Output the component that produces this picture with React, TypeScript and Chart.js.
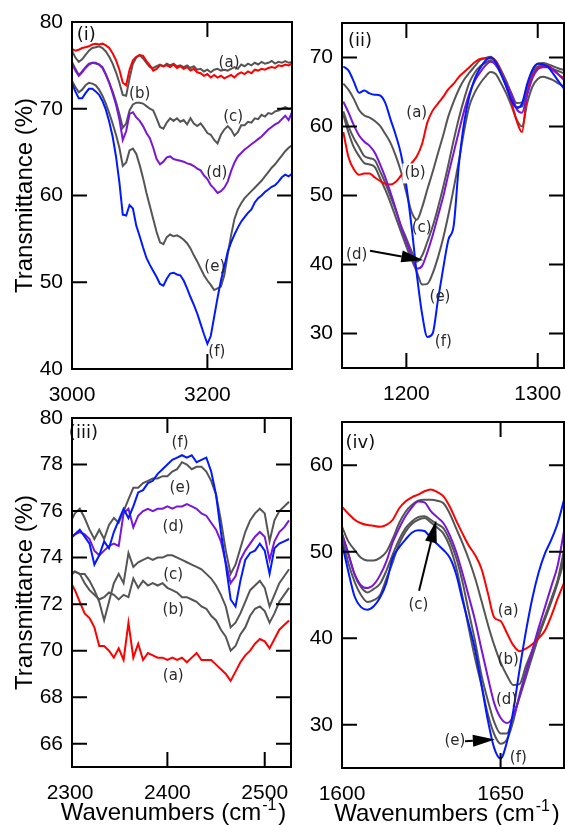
import React, { useEffect, useRef } from 'react';
import { Chart, registerables } from 'chart.js';

Chart.register(...registerables);

// ---------- shared series styling ----------
const SERIES_COLORS = ['#ff0000', '#555555', '#555555', '#7a16d8', '#555555', '#0019ff'];
const SERIES_NAMES = ['a', 'b', 'c', 'd', 'e', 'f'];
const DRAW_ORDER = [2, 5, 4, 1, 3, 0];

const TICK_FONT = '"Liberation Sans", Arial, sans-serif';
const LABEL_FONT = '"DejaVu Sans", sans-serif';

// ---------- Panel (i) : 3000-3325 cm-1 ----------
const p1Wavenumbers = [
  3000, 3005, 3010, 3015, 3020, 3025, 3030, 3035, 3040, 3045,
  3050, 3055, 3060, 3065, 3070, 3075, 3080, 3085, 3090, 3095,
  3100, 3105, 3110, 3115, 3120, 3125, 3130, 3135, 3140, 3145,
  3150, 3155, 3160, 3165, 3170, 3175, 3180, 3185, 3190, 3195,
  3200, 3205, 3210, 3215, 3220, 3225, 3230, 3235, 3240, 3245,
  3250, 3255, 3260, 3265, 3270, 3275, 3280, 3285, 3290, 3295,
  3300, 3305, 3310, 3315, 3320, 3325,
];
const p1A = [
  76.9, 76.7, 76.8, 77.0, 77.1, 77.2, 77.4, 77.5, 77.4, 77.5,
  77.3, 77.0, 76.4, 75.6, 74.5, 73.0, 72.7, 74.5, 75.6, 76.0,
  76.2, 76.1, 75.5, 75.0, 74.4, 74.6, 75.0, 74.9, 75.0, 74.8,
  75.1, 74.7, 74.9, 74.6, 74.8, 74.4, 74.6, 74.2, 74.1, 73.8,
  74.0, 73.6, 73.9, 73.6, 73.8, 73.5, 73.7, 73.9, 73.6, 74.0,
  74.2, 74.0, 74.3, 74.1, 74.5, 74.4, 74.6, 74.5, 74.7, 74.8,
  74.7, 75.0, 74.9, 75.1, 75.0, 75.2,
];
const p1B = [
  76.7, 75.9, 75.4, 75.7, 76.2, 76.7, 77.0, 77.1, 77.2, 77.0,
  76.6, 76.0, 75.2, 74.2, 73.0, 71.6, 71.5, 73.5, 75.2, 75.9,
  76.2, 75.8, 75.3, 74.8, 74.7, 74.9, 75.1, 74.9, 75.2, 75.0,
  75.2, 74.9, 75.0, 74.8, 75.0, 74.7, 74.9, 74.5, 74.6, 74.3,
  74.5, 74.2, 74.5, 74.6, 74.4, 74.5, 74.4, 74.6, 74.8, 74.6,
  75.1, 74.9, 75.2, 75.0, 75.3, 75.1, 75.4, 75.2, 75.3, 75.5,
  75.2, 75.4, 75.3, 75.5, 75.3, 75.4,
];
const p1C = [
  75.4, 74.6, 73.9, 74.3, 74.8, 75.2, 75.3, 75.2, 75.1, 74.7,
  73.9, 73.0, 72.0, 70.8, 69.4, 67.8, 68.3, 69.8, 70.5, 70.7,
  70.7, 70.6, 70.3, 70.0, 69.8, 68.9, 67.9, 67.7, 68.4, 68.9,
  68.6, 68.9, 68.5, 68.7, 68.2, 68.9, 68.3, 68.0, 68.3, 67.8,
  67.2, 67.0, 66.4, 66.0, 67.0, 67.6, 68.0, 67.6, 66.9, 67.3,
  68.1, 68.1, 68.5, 68.4, 68.9, 68.8, 69.3, 69.1, 69.5, 69.4,
  69.7, 69.8, 70.0, 70.2, 70.0, 70.1,
];
const p1D = [
  75.2, 74.4, 73.8, 74.2, 74.7, 75.1, 75.3, 75.3, 75.1, 74.8,
  74.0, 73.0, 71.8, 70.5, 68.8, 66.4, 67.4, 69.4, 69.6, 69.0,
  68.6, 68.0, 67.2, 66.6, 65.5, 64.2, 63.6, 63.9, 64.4, 64.5,
  64.2, 64.1, 64.0, 63.9, 63.7, 63.6, 63.4, 63.1, 62.9, 62.3,
  61.9, 61.2, 60.8, 60.3, 60.5, 60.9, 61.6, 62.8, 63.8, 64.5,
  64.9, 65.3, 65.6, 65.9, 66.2, 66.5, 66.8, 67.2, 67.6, 67.9,
  68.2, 68.4, 68.8, 69.2, 68.7, 69.6,
];
const p1E = [
  73.2, 72.5, 71.9, 72.2, 72.7, 73.0, 72.9, 72.7, 72.2, 71.5,
  70.6, 69.5, 68.3, 67.0, 65.5, 63.4, 63.8, 65.2, 65.4, 64.8,
  63.5, 62.0, 60.3, 58.8, 57.3, 55.8, 54.6, 54.4, 55.2, 55.5,
  55.3, 55.4, 55.2, 54.9, 54.5, 53.9, 53.1, 52.4, 51.6, 50.8,
  50.2, 49.7, 49.1, 49.3, 49.5, 50.8, 53.2, 55.4, 57.3, 58.4,
  59.1, 59.7, 60.1, 60.5, 60.9, 61.3, 61.7, 62.2, 62.7, 63.2,
  63.6, 64.1, 64.6, 65.1, 65.5, 65.8,
];
const p1F = [
  72.9, 72.0, 71.2, 71.2, 71.8, 72.3, 72.3, 72.0, 71.6, 70.9,
  69.9, 68.5, 66.8, 64.5, 61.5, 57.8, 57.7, 58.9, 58.5, 56.5,
  55.3, 54.0, 52.8, 52.0, 51.3, 50.6, 49.8, 49.6, 50.4, 51.0,
  51.1, 50.9, 50.8, 50.2, 49.3, 48.3, 47.4, 46.4, 45.2, 44.0,
  42.9, 43.8, 46.0, 48.2, 50.2, 51.8, 53.5, 54.6, 55.5, 56.3,
  57.0, 57.5, 58.0, 58.4, 59.2, 59.7, 60.0, 60.4, 60.7, 61.0,
  61.2, 61.6, 62.1, 62.4, 62.2, 62.5,
];
const p1XTicks = [3000, 3200];
const p1YTicks = [40, 50, 60, 70, 80];

// ---------- Panel (ii) : 1150-1320 cm-1 ----------
const p2Wavenumbers = [
  1152, 1156, 1160, 1164, 1168, 1172, 1176, 1180, 1184, 1188,
  1192, 1196, 1200, 1204, 1208, 1212, 1216, 1220, 1224, 1228,
  1232, 1236, 1240, 1244, 1248, 1252, 1256, 1260, 1264, 1268,
  1272, 1276, 1280, 1284, 1288, 1292, 1296, 1300, 1304, 1308,
  1312, 1316, 1320,
];
const p2A = [
  59.2, 55.5, 53.8, 53.0, 53.2, 53.2, 52.6, 52.1, 51.7, 51.6,
  52.0, 52.9, 53.7, 54.7, 55.7, 57.5, 60.6, 62.3, 63.3, 64.3,
  65.4, 66.2, 67.2, 67.9, 68.6, 69.3, 69.8, 69.9, 69.9, 69.5,
  67.9, 65.8, 63.5, 60.8, 59.2, 64.8, 67.3, 68.4, 68.8, 68.8,
  68.1, 67.5, 67.0,
];
const p2B = [
  66.2, 65.3, 64.0, 62.4, 61.6, 61.3, 60.8, 60.1, 58.9, 57.6,
  55.7, 53.4, 50.4, 47.6, 46.5, 48.3, 50.9, 53.4, 56.1, 58.7,
  61.5, 63.6, 65.4, 66.8, 67.8, 68.7, 69.6, 69.9, 70.1, 69.5,
  68.2, 66.6, 64.8, 63.4, 63.5, 65.8, 68.2, 69.1, 69.2, 69.0,
  68.7, 68.4, 68.2,
];
const p2C = [
  62.2, 60.0, 58.3, 57.0, 55.7, 55.4, 55.1, 53.5, 51.8, 49.8,
  47.8, 45.6, 43.8, 41.9, 40.4, 41.3, 43.3, 45.5, 48.2, 51.2,
  54.5, 58.0, 61.2, 64.0, 66.4, 67.8, 68.7, 69.2, 69.6, 68.9,
  67.7, 66.2, 64.3, 62.8, 62.9, 65.3, 67.6, 68.7, 68.8, 68.6,
  68.3, 68.0, 67.7,
];
const p2D = [
  63.6, 62.0, 60.2, 58.7, 57.8, 57.2, 56.2, 54.5, 52.6, 50.4,
  48.0, 45.4, 43.3, 41.3, 39.4, 39.8, 41.8, 44.2, 47.0, 49.8,
  53.1, 56.2, 59.3, 62.3, 64.8, 66.6, 67.8, 68.8, 69.4, 69.0,
  67.7, 66.2, 64.7, 62.5, 62.0, 64.6, 67.0, 68.3, 68.6, 68.6,
  68.2, 67.5, 66.7,
];
const p2E = [
  61.7, 59.1, 57.0, 55.7, 54.7, 54.5, 54.1, 52.5, 50.8, 48.9,
  46.8, 44.7, 42.6, 40.7, 38.9, 37.1, 37.2, 38.7, 41.0, 43.8,
  47.2, 51.0, 55.0, 59.4, 63.0, 64.9, 66.2, 67.2, 67.9, 67.6,
  66.3, 64.8, 63.0, 61.0, 60.0, 63.4, 65.8, 66.9, 67.2, 67.0,
  66.7, 66.2, 65.8,
];
const p2F = [
  68.7, 68.1, 66.5, 64.9, 65.2, 64.8, 64.6, 64.5, 63.4, 61.0,
  58.7, 55.9, 51.4, 45.4, 38.5, 32.8, 29.5, 30.0, 34.8, 39.4,
  43.6, 45.6, 54.5, 60.6, 64.4, 66.9, 68.4, 69.5, 70.0, 69.3,
  67.6, 65.8, 63.8, 62.7, 63.3, 66.2, 68.2, 69.1, 69.0, 68.6,
  67.6, 66.5, 65.5,
];
const p2XTicks = [1200, 1300];
const p2YTicks = [30, 40, 50, 60, 70];

// ---------- Panel (iii) : 2300-2525 cm-1 ----------
const p3Wavenumbers = [
  2300, 2305, 2310, 2315, 2320, 2325, 2330, 2335, 2340, 2345,
  2350, 2355, 2360, 2365, 2370, 2375, 2380, 2385, 2390, 2395,
  2400, 2405, 2410, 2415, 2420, 2425, 2430, 2435, 2440, 2445,
  2450, 2455, 2460, 2465, 2470, 2475, 2480, 2485, 2490, 2495,
  2500, 2505, 2510, 2515, 2520, 2525,
];
const p3A = [
  73.0, 72.6, 72.1, 71.6, 71.4, 71.0, 70.2, 70.2, 70.0, 69.7,
  70.1, 69.6, 71.2, 69.7, 70.3, 69.6, 69.9, 69.8, 69.7, 69.7,
  69.6, 69.7, 69.6, 69.7, 69.5, 69.7, 69.9, 69.6, 69.6, 69.6,
  69.4, 69.2, 69.0, 68.7, 69.1, 69.5, 69.8, 70.0, 70.3, 70.5,
  70.4, 70.1, 70.5, 70.9, 71.1, 71.3,
];
const p3B = [
  73.3, 73.4, 73.3, 72.9, 72.6, 72.4, 72.2, 72.3, 72.5, 72.4,
  72.2, 72.4, 72.3, 73.1, 72.7, 73.0, 72.8, 72.9, 72.8, 72.9,
  72.7, 72.6, 72.5, 72.3, 72.3, 72.2, 72.1, 71.9, 71.8, 71.5,
  71.3, 70.9, 70.6, 70.0, 70.2, 70.7, 71.0, 71.5, 71.8, 71.9,
  71.7, 71.2, 71.6, 72.1, 72.4, 72.7,
];
const p3C = [
  73.2, 73.4, 73.3, 73.3, 73.0, 72.6, 72.1, 71.3, 72.1, 72.9,
  73.3, 72.9, 74.2, 73.6, 73.8, 73.9, 74.0, 73.9, 74.0, 74.0,
  74.1, 74.1, 74.0, 73.9, 73.8, 73.7, 73.6, 73.5, 73.3, 73.1,
  72.8, 72.4, 71.9, 71.0, 71.2, 71.6, 72.1, 72.6, 72.8, 73.0,
  72.7, 71.9, 72.4, 72.9, 73.2, 73.5,
];
const p3D = [
  74.8, 75.0, 75.1, 75.0, 74.8, 74.3, 74.1, 74.3, 74.5, 74.6,
  74.5, 75.9, 76.1, 75.3, 75.8, 76.0, 76.1, 76.0, 76.1, 76.1,
  76.2, 76.1, 76.2, 76.2, 76.3, 76.2, 76.1, 75.9, 75.8, 75.5,
  75.2, 74.7, 73.8, 72.9, 73.2, 73.9, 74.3, 74.6, 74.9, 75.1,
  74.9, 73.9, 74.7, 75.1, 75.3, 75.6,
];
const p3E = [
  75.5, 75.9, 76.1, 75.7, 75.2, 74.8, 75.2, 74.8, 75.4, 75.7,
  75.5, 76.0, 76.5, 77.0, 77.0, 77.2, 77.3, 77.4, 77.4, 77.5,
  77.5, 77.7, 77.8, 78.1, 78.0, 77.8, 77.9, 77.9, 77.7, 77.3,
  76.7, 75.6, 74.3, 73.3, 73.7, 74.4, 75.1, 75.6, 75.9, 76.1,
  75.9, 74.7, 75.6, 76.0, 76.2, 76.4,
];
const p3F = [
  74.8, 75.0, 75.2, 74.9, 74.6, 73.7, 74.1, 74.7, 74.4, 75.1,
  75.6, 76.1, 75.7, 76.2, 76.8, 76.9, 77.2, 77.3, 77.6, 77.8,
  78.0, 78.2, 78.3, 78.4, 78.3, 78.4, 78.1, 78.2, 78.3, 77.7,
  76.7, 75.1, 73.7, 72.2, 71.9, 73.0, 73.9, 74.2, 74.3, 74.6,
  74.3, 73.3, 74.4, 74.6, 74.7, 74.8,
];
const p3XTicks = [2300, 2400, 2500];
const p3YTicks = [66, 68, 70, 72, 74, 76, 78, 80];

// ---------- Panel (iv) : 1600-1670 cm-1 ----------
const p4Wavenumbers = [
  1600, 1602, 1604, 1606, 1608, 1610, 1612, 1614, 1616, 1618,
  1620, 1622, 1624, 1626, 1628, 1630, 1632, 1634, 1636, 1638,
  1640, 1642, 1644, 1646, 1648, 1650, 1652, 1654, 1656, 1658,
  1660, 1662, 1664, 1666, 1668, 1670,
];
const p4A = [
  55.2, 54.4, 53.7, 53.3, 53.1, 53.0, 52.9, 53.1, 53.7, 55.0,
  55.8, 56.3, 56.6, 57.0, 57.2, 56.9, 56.4, 55.2, 53.6, 52.1,
  50.7, 49.6, 48.0, 45.2, 42.4, 42.0, 40.6, 39.2, 38.5, 38.8,
  39.3, 40.0, 40.9, 42.6, 44.6, 46.4,
];
const p4B = [
  52.9, 51.2, 50.2, 49.3, 49.0, 49.0, 49.3, 50.0, 51.5, 53.3,
  54.6, 55.4, 55.9, 56.0, 56.0, 55.9, 55.6, 54.4, 52.7, 51.0,
  49.1, 46.9, 44.3, 41.6, 39.2, 37.2, 35.7, 34.6, 34.7, 36.8,
  38.6, 40.3, 42.2, 44.2, 46.4, 48.9,
];
const p4C = [
  52.1, 49.8, 47.3, 45.9, 45.3, 45.7, 46.3, 47.8, 49.7, 51.4,
  52.7, 53.5, 54.0, 54.1, 53.7, 53.2, 52.7, 51.3, 49.3, 46.5,
  43.0, 39.6, 35.7, 32.8, 30.3, 29.0, 29.0, 31.0, 33.2, 35.5,
  37.9, 40.2, 42.4, 44.5, 46.7, 50.2,
];
const p4D = [
  52.1, 49.7, 47.4, 46.1, 45.8, 46.2, 47.3, 48.9, 51.1, 52.7,
  54.1, 55.1, 55.8, 55.7, 54.7, 54.0, 53.3, 51.9, 50.0, 47.5,
  44.8, 42.0, 38.7, 35.5, 32.5, 30.8, 30.2, 31.0, 33.3, 36.0,
  38.6, 41.2, 43.6, 46.0, 48.4, 52.4,
];
const p4E = [
  51.7, 48.7, 46.5, 45.0, 44.2, 44.4, 45.0, 46.9, 48.8, 50.9,
  52.3, 53.2, 53.7, 53.9, 53.4, 52.8, 52.1, 50.6, 48.2, 44.8,
  41.1, 37.6, 34.5, 31.2, 28.9, 27.8, 28.3, 30.4, 33.5, 36.1,
  38.5, 40.6, 42.5, 44.5, 46.6, 49.2,
];
const p4F = [
  51.0, 47.7, 44.8, 43.6, 43.3, 43.7, 44.7, 46.4, 49.3, 50.5,
  51.4, 52.2, 52.5, 52.4, 51.6, 50.9, 50.2, 49.3, 47.4, 44.4,
  41.6, 38.6, 34.6, 30.5, 27.3, 26.1, 28.0, 31.6, 36.4, 40.8,
  44.6, 47.6, 49.8, 51.4, 53.3, 56.0,
];
const p4XTicks = [1600, 1650];
const p4YTicks = [30, 40, 50, 60];

// ---------- annotations (data coordinates) ----------
type Ann = { text: string; x: number; y: number; big?: boolean; mask?: boolean };
type Arrow = { x1: number; y1: number; x2: number; y2: number };

const p1Labels: Ann[] = [
  { text: '(i)', x: 3021, y: 78.5, big: true },
  { text: '(a)', x: 3232, y: 75.3 },
  { text: '(b)', x: 3100, y: 71.7 },
  { text: '(c)', x: 3238, y: 69.0 },
  { text: '(d)', x: 3214, y: 62.6 },
  { text: '(e)', x: 3211, y: 51.8 },
  { text: '(f)', x: 3214, y: 42.0 },
];
const p2Labels: Ann[] = [
  { text: '(ii)', x: 1164.7, y: 72.3, big: true },
  { text: '(a)', x: 1207.9, y: 61.9 },
  { text: '(b)', x: 1206.6, y: 53.2, mask: true },
  { text: '(c)', x: 1211.7, y: 45.3 },
  { text: '(d)', x: 1162.2, y: 41.4 },
  { text: '(e)', x: 1225.6, y: 35.3 },
  { text: '(f)', x: 1228.1, y: 28.8 },
];
const p2Arrows: Arrow[] = [{ x1: 1172.3, y1: 42.0, x2: 1212.9, y2: 40.6 }];
const p3Labels: Ann[] = [
  { text: '(iii)', x: 2313.7, y: 79.35, big: true },
  { text: '(f)', x: 2413, y: 78.9 },
  { text: '(e)', x: 2413, y: 77.0 },
  { text: '(d)', x: 2406, y: 75.3 },
  { text: '(c)', x: 2406, y: 73.25 },
  { text: '(b)', x: 2406, y: 71.75 },
  { text: '(a)', x: 2406, y: 68.9 },
];
const p4Labels: Ann[] = [
  { text: '(iv)', x: 1605.8, y: 62.5, big: true },
  { text: '(c)', x: 1624.1, y: 43.8 },
  { text: '(a)', x: 1652.4, y: 43.1 },
  { text: '(b)', x: 1652.4, y: 37.5 },
  { text: '(d)', x: 1651.9, y: 32.9 },
  { text: '(e)', x: 1635.6, y: 28.1 },
  { text: '(f)', x: 1655.6, y: 26.2 },
];
const p4Arrows: Arrow[] = [
  { x1: 1624.3, y1: 45.5, x2: 1629.7, y2: 53.6 },
  { x1: 1638.8, y1: 28.1, x2: 1648.2, y2: 28.3 },
];

// ---------- panel layout ----------
type PanelDef = {
  key: string;
  box: { left: number; top: number; width: number; height: number };
  padTop: number; padRight: number; yWidth: number; xHeight: number;
  xMin: number; xMax: number; yMin: number; yMax: number;
  xs: number[]; series: number[][];
  xTicks: number[]; yTicks: number[];
  yTitle: boolean; xTitle: boolean; xTitleShift: number;
  smooth: boolean;
  labels: Ann[]; arrows: Arrow[];
};

const PANELS: PanelDef[] = [
  {
    key: 'i', box: { left: 0, top: 0, width: 296, height: 404 },
    padTop: 22, padRight: 4, yWidth: 72, xHeight: 35,
    xMin: 3000, xMax: 3325, yMin: 40, yMax: 80,
    xs: p1Wavenumbers, series: [p1A, p1B, p1C, p1D, p1E, p1F],
    xTicks: p1XTicks, yTicks: p1YTicks, yTitle: true, xTitle: false, xTitleShift: 0,
    smooth: false, labels: p1Labels, arrows: [],
  },
  {
    key: 'ii', box: { left: 296, top: 0, width: 269, height: 404 },
    padTop: 23, padRight: 1, yWidth: 46, xHeight: 36,
    xMin: 1151, xMax: 1320, yMin: 25, yMax: 75,
    xs: p2Wavenumbers, series: [p2A, p2B, p2C, p2D, p2E, p2F],
    xTicks: p2XTicks, yTicks: p2YTicks, yTitle: false, xTitle: false, xTitleShift: 0,
    smooth: true, labels: p2Labels, arrows: p2Arrows,
  },
  {
    key: 'iii', box: { left: 0, top: 404, width: 296, height: 421 },
    padTop: 14, padRight: 5, yWidth: 72, xHeight: 58,
    xMin: 2302, xMax: 2527, yMin: 65, yMax: 80,
    xs: p3Wavenumbers, series: [p3A, p3B, p3C, p3D, p3E, p3F],
    xTicks: p3XTicks, yTicks: p3YTicks, yTitle: true, xTitle: true, xTitleShift: -8,
    smooth: false, labels: p3Labels, arrows: [],
  },
  {
    key: 'iv', box: { left: 296, top: 404, width: 269, height: 421 },
    padTop: 18, padRight: 1, yWidth: 46, xHeight: 57,
    xMin: 1600, xMax: 1670, yMin: 25, yMax: 65,
    xs: p4Wavenumbers, series: [p4A, p4B, p4C, p4D, p4E, p4F],
    xTicks: p4XTicks, yTicks: p4YTicks, yTitle: false, xTitle: true, xTitleShift: -6,
    smooth: true, labels: p4Labels, arrows: p4Arrows,
  },
];

function makeDecorPlugin(p: PanelDef) {
  return {
    id: 'decor_' + p.key,
    afterDatasetsDraw(chart: any) {
      const ctx: CanvasRenderingContext2D = chart.ctx;
      const xs = chart.scales.x;
      const ys = chart.scales.y;
      const { left, right, top, bottom } = chart.chartArea;
      ctx.save();
      // annotation labels
      ctx.textAlign = 'center';
      ctx.textBaseline = 'middle';
      for (const l of p.labels) {
        const px = xs.getPixelForValue(l.x);
        const py = ys.getPixelForValue(l.y);
        ctx.font = (l.big ? '18px ' : '15px ') + LABEL_FONT;
        if (l.mask) {
          const w = ctx.measureText(l.text).width;
          ctx.fillStyle = '#ffffff';
          ctx.fillRect(px - w / 2 - 2, py - 10, w + 4, 20);
        }
        ctx.fillStyle = l.big ? '#111111' : '#2a2a2a';
        ctx.fillText(l.text, px, py);
      }
      // arrows
      ctx.strokeStyle = '#000';
      ctx.fillStyle = '#000';
      ctx.lineWidth = 2;
      for (const a of p.arrows) {
        const x1 = xs.getPixelForValue(a.x1), y1 = ys.getPixelForValue(a.y1);
        const x2 = xs.getPixelForValue(a.x2), y2 = ys.getPixelForValue(a.y2);
        const ang = Math.atan2(y2 - y1, x2 - x1);
        const hl = 22, hw = 6;
        const c = Math.cos(ang), s = Math.sin(ang);
        const bx = x2 - hl * c, by = y2 - hl * s;
        ctx.beginPath();
        ctx.moveTo(x1, y1);
        ctx.lineTo(bx, by);
        ctx.stroke();
        ctx.beginPath();
        ctx.moveTo(x2, y2);
        ctx.lineTo(bx - hw * s, by + hw * c);
        ctx.lineTo(bx + hw * s, by - hw * c);
        ctx.closePath();
        ctx.fill();
      }
      // frame + inward ticks
      ctx.lineWidth = 2;
      ctx.strokeStyle = '#000';
      ctx.strokeRect(left, top, right - left, bottom - top);
      const tl = 15;
      ctx.beginPath();
      for (const v of p.yTicks) {
        if (v <= p.yMin || v >= p.yMax) continue;
        const py = ys.getPixelForValue(v);
        ctx.moveTo(left, py); ctx.lineTo(left + tl, py);
        ctx.moveTo(right, py); ctx.lineTo(right - tl, py);
      }
      for (const v of p.xTicks) {
        if (v <= p.xMin || v >= p.xMax) continue;
        const px = xs.getPixelForValue(v);
        ctx.moveTo(px, bottom); ctx.lineTo(px, bottom - tl);
        ctx.moveTo(px, top); ctx.lineTo(px, top + tl);
      }
      ctx.stroke();
      // x-axis title with superscript
      if (p.xTitle) {
        const mainFont = '24px ' + TICK_FONT;
        const supFont = '16px ' + TICK_FONT;
        const main = 'Wavenumbers (cm';
        const sup = '-1';
        const close = ')';
        ctx.textAlign = 'left';
        ctx.textBaseline = 'alphabetic';
        ctx.font = mainFont;
        const wMain = ctx.measureText(main).width;
        const wClose = ctx.measureText(close).width;
        ctx.font = supFont;
        const wSup = ctx.measureText(sup).width;
        const total = wMain + wSup + wClose + 3;
        const x0 = (left + right) / 2 + p.xTitleShift - total / 2;
        const yb = bottom + 53;
        ctx.fillStyle = '#000';
        ctx.font = mainFont;
        ctx.fillText(main, x0, yb);
        ctx.font = supFont;
        ctx.fillText(sup, x0 + wMain + 1, yb - 10);
        ctx.font = mainFont;
        ctx.fillText(close, x0 + wMain + wSup + 3, yb);
      }
      ctx.restore();
    },
  };
}

function buildConfig(p: PanelDef): any {
  const datasets = p.series.map((ys, i) => ({
    label: SERIES_NAMES[i],
    data: p.xs.map((x, j) => ({ x, y: ys[j] })),
    borderColor: SERIES_COLORS[i],
    backgroundColor: SERIES_COLORS[i],
    borderWidth: 2,
    pointRadius: 0,
    fill: false,
    order: DRAW_ORDER[i],
    tension: 0,
    cubicInterpolationMode: p.smooth ? 'monotone' : 'default',
  }));
  return {
    type: 'line',
    data: { datasets },
    options: {
      responsive: false,
      animation: false,
      events: [],
      layout: { padding: { left: 0, top: p.padTop, right: p.padRight, bottom: 0 } },
      plugins: { legend: { display: false }, tooltip: { enabled: false }, title: { display: false } },
      scales: {
        x: {
          type: 'linear',
          min: p.xMin,
          max: p.xMax,
          grid: { display: false, drawTicks: false },
          border: { display: false },
          afterBuildTicks: (s: any) => { s.ticks = p.xTicks.map((v) => ({ value: v })); },
          afterFit: (s: any) => {
            s.height = p.xHeight;
            s.paddingLeft = 0; s.paddingRight = 0; s.paddingTop = 0; s.paddingBottom = 0;
          },
          ticks: {
            autoSkip: false,
            maxRotation: 0,
            minRotation: 0,
            padding: 14,
            color: '#000',
            font: { family: TICK_FONT, size: 21 },
            callback: (v: any) => String(v),
          },
        },
        y: {
          type: 'linear',
          min: p.yMin,
          max: p.yMax,
          grid: { display: false, drawTicks: false },
          border: { display: false },
          afterBuildTicks: (s: any) => { s.ticks = p.yTicks.map((v) => ({ value: v })); },
          afterFit: (s: any) => {
            s.width = p.yWidth;
            s.paddingLeft = 0; s.paddingRight = 0; s.paddingTop = 0; s.paddingBottom = 0;
          },
          ticks: {
            autoSkip: false,
            padding: 9,
            color: '#000',
            font: { family: TICK_FONT, size: 21 },
            callback: (v: any) => String(v),
          },
          title: {
            display: p.yTitle,
            text: 'Transmittance (%)',
            color: '#000',
            font: { family: TICK_FONT, size: 24, lineHeight: 1 },
            padding: { top: 13, bottom: 0 },
          },
        },
      },
    },
    plugins: [makeDecorPlugin(p)],
  };
}

function Panel({ panel }: { panel: PanelDef }) {
  const ref = useRef<HTMLCanvasElement | null>(null);
  useEffect(() => {
    if (!ref.current) return;
    const chart = new Chart(ref.current, buildConfig(panel));
    return () => chart.destroy();
  }, [panel]);
  const b = panel.box;
  return (
    <canvas
      ref={ref}
      width={b.width}
      height={b.height}
      style={{ position: 'absolute', left: b.left, top: b.top, width: b.width, height: b.height }}
    />
  );
}

export default function App() {
  return (
    <div style={{ position: 'absolute', left: 0, top: 0, width: 565, height: 825, background: '#fff', overflow: 'hidden' }}>
      {PANELS.map((p) => (
        <Panel key={p.key} panel={p} />
      ))}
    </div>
  );
}
